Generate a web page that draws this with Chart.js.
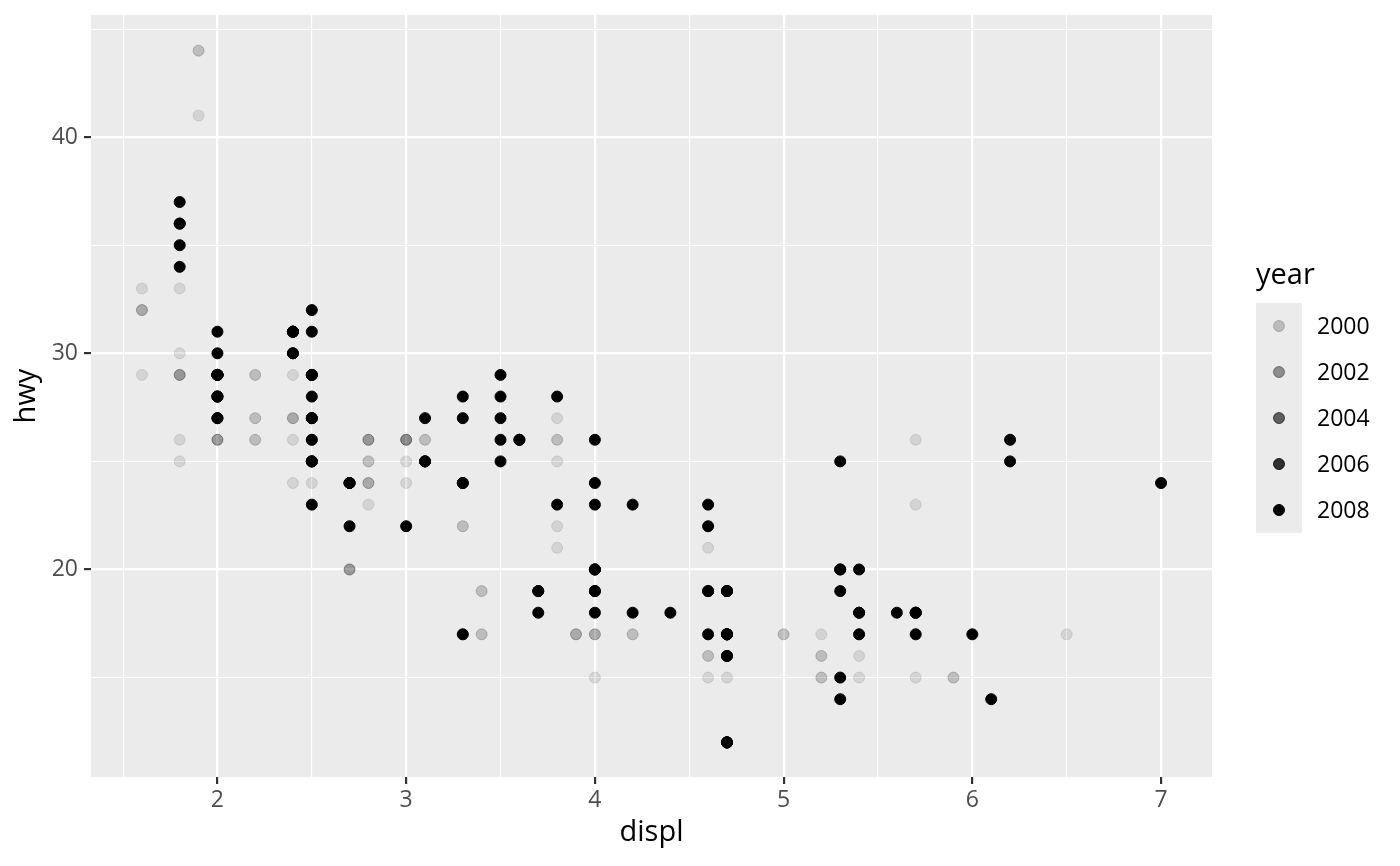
<!DOCTYPE html>
<html>
<head>
<meta charset="utf-8">
<script src="https://cdn.jsdelivr.net/npm/chart.js@4.4.1/dist/chart.umd.min.js"></script>
<style>
  html, body { margin: 0; padding: 0; background: #fff; }
  #wrap { width: 1400px; height: 866px; }
</style>
</head>
<body>
<div id="wrap"><canvas id="mpgChart" width="1400" height="866"></canvas></div>
<script>
// mpg: engine displacement vs highway mileage, alpha by model year
const displ = [
  1.8,1.8,2.0,2.0,2.8,2.8,3.1,
  1.8,1.8,2.0,2.0,2.8,2.8,3.1,3.1,2.8,3.1,4.2,
  5.3,5.3,5.3,5.7,6.0,5.7,5.7,6.2,6.2,7.0,
  5.3,5.3,5.7,6.5,2.4,2.4,3.1,3.5,3.6,
  2.4,3.0,3.3,3.3,3.3,3.3,3.3,3.8,3.8,3.8,4.0,
  3.7,3.7,3.9,3.9,4.7,4.7,4.7,5.2,5.2,
  3.9,4.7,4.7,4.7,5.2,5.7,5.9,
  4.7,4.7,4.7,4.7,4.7,4.7,5.2,5.2,5.7,5.9,
  4.6,5.4,5.4,
  4.0,4.0,4.0,4.0,4.6,5.0,
  4.2,4.2,4.6,4.6,4.6,5.4,5.4,
  3.8,3.8,4.0,4.0,4.6,4.6,4.6,4.6,5.4,
  1.6,1.6,1.6,1.6,1.6,1.8,1.8,1.8,2.0,
  2.4,2.4,2.4,2.4,2.5,2.5,3.3,
  2.0,2.0,2.0,2.0,2.7,2.7,2.7,
  3.0,3.7,4.0,4.7,4.7,4.7,5.7,6.1,
  4.0,4.2,4.4,4.6,
  5.4,5.4,5.4,
  4.0,4.0,4.6,5.0,
  2.4,2.4,2.5,2.5,3.5,3.5,
  3.0,3.0,3.5,
  3.3,3.3,4.0,5.6,
  3.1,3.8,3.8,3.8,5.3,
  2.5,2.5,2.5,2.5,2.5,2.5,
  2.2,2.2,2.5,2.5,2.5,2.5,2.5,2.5,
  2.7,2.7,3.4,3.4,4.0,4.7,
  2.2,2.2,2.4,2.4,3.0,3.0,3.5,
  2.2,2.2,2.4,2.4,3.0,3.0,3.3,
  1.8,1.8,1.8,1.8,1.8,
  4.7,5.7,
  2.7,2.7,2.7,3.4,3.4,4.0,4.0,
  2.0,2.0,2.0,2.0,2.8,
  1.9,2.0,2.0,2.0,2.0,2.5,2.5,2.8,2.8,
  1.9,1.9,2.0,2.0,2.5,2.5,
  1.8,1.8,2.0,2.0,2.8,2.8,3.6
];
const year = [
  1999,1999,2008,2008,1999,1999,2008,
  1999,1999,2008,2008,1999,1999,2008,2008,1999,2008,2008,
  2008,2008,2008,1999,2008,1999,1999,2008,2008,2008,
  2008,2008,1999,1999,1999,2008,1999,2008,2008,
  1999,1999,1999,1999,2008,2008,2008,1999,1999,2008,2008,
  2008,2008,1999,1999,2008,2008,2008,1999,1999,
  1999,2008,2008,2008,1999,2008,1999,
  2008,2008,2008,2008,2008,2008,1999,1999,2008,1999,
  1999,1999,2008,
  1999,1999,1999,2008,2008,1999,
  1999,1999,1999,1999,2008,1999,2008,
  1999,1999,2008,2008,1999,1999,2008,2008,2008,
  1999,1999,1999,1999,1999,2008,2008,2008,2008,
  1999,1999,2008,2008,1999,1999,2008,
  1999,1999,2008,2008,2008,2008,2008,
  2008,2008,1999,1999,2008,2008,2008,2008,
  1999,2008,2008,1999,
  1999,1999,2008,
  1999,2008,2008,1999,
  1999,1999,2008,2008,2008,2008,
  1999,1999,2008,
  1999,1999,2008,2008,
  1999,1999,1999,2008,2008,
  1999,1999,2008,2008,2008,2008,
  1999,1999,1999,1999,2008,2008,2008,2008,
  1999,1999,1999,1999,2008,2008,
  1999,1999,2008,2008,1999,1999,2008,
  1999,1999,2008,2008,1999,1999,2008,
  1999,1999,1999,2008,2008,
  1999,2008,
  1999,1999,2008,1999,1999,2008,2008,
  1999,1999,2008,2008,1999,
  1999,1999,1999,2008,2008,2008,2008,1999,1999,
  1999,1999,1999,1999,2008,2008,
  1999,1999,2008,2008,1999,1999,2008
];
const hwy = [
  29,29,31,30,26,26,27,
  26,25,28,27,25,25,25,25,24,25,23,
  20,15,20,17,17,26,23,26,25,24,
  19,14,15,17,27,30,26,29,26,
  24,24,22,22,24,24,17,22,21,23,23,
  19,18,17,17,19,19,12,17,15,
  17,17,12,17,16,18,15,
  16,12,17,17,16,12,15,16,17,15,
  17,17,18,
  17,19,17,19,19,17,
  17,17,16,16,17,15,17,
  26,25,26,24,21,22,23,22,20,
  33,32,32,29,32,34,36,36,29,
  26,27,30,31,26,26,28,
  26,29,28,27,24,24,24,
  22,19,20,17,12,19,18,14,
  15,18,18,15,
  17,16,18,
  17,19,19,17,
  29,27,31,32,27,26,
  26,25,25,
  17,17,20,18,
  26,26,27,28,25,
  25,24,27,25,26,23,
  26,26,26,26,25,27,25,27,
  20,20,19,17,20,17,
  29,27,31,31,26,26,28,
  27,29,31,31,26,26,27,
  30,33,35,37,35,
  15,18,
  20,20,22,17,19,18,20,
  29,26,29,29,24,
  44,29,26,29,29,29,29,23,24,
  44,41,29,26,28,29,
  29,29,28,29,26,26,26
];

const xMajor = [2, 3, 4, 5, 6, 7];
const xMinor = [1.5, 2.5, 3.5, 4.5, 5.5, 6.5];
const yMajor = [20, 30, 40];
const yMinor = [15, 25, 35, 45];
const legendYears = [2000, 2002, 2004, 2006, 2008];

const FONT = "'Open Sans', 'Noto Sans', 'DejaVu Sans', sans-serif";
const YEAR_MIN = 1999, YEAR_MAX = 2008;
const POINT_R = 5.5;

// ggplot scale_alpha: range 0.1 .. 1
function alphaFor(y) {
  return 0.1 + 0.9 * (y - YEAR_MIN) / (YEAR_MAX - YEAR_MIN);
}
function pointColor(y) {
  return `rgba(0,0,0,${alphaFor(y).toFixed(3)})`;
}

const points = displ.map((d, i) => ({ x: d, y: hwy[i] }));

const panelBg = {
  id: 'panelBg',
  beforeDraw(chart) {
    const { ctx, chartArea: a } = chart;
    ctx.save();
    ctx.fillStyle = '#ffffff';
    ctx.fillRect(0, 0, chart.width, chart.height);
    ctx.fillStyle = '#EBEBEB';
    ctx.fillRect(a.left, a.top, a.right - a.left, a.bottom - a.top);
    ctx.restore();
  }
};

const alphaLegend = {
  id: 'alphaLegend',
  afterDraw(chart) {
    const ctx = chart.ctx;
    const left = 1256, top = 303, key = 46;
    ctx.save();
    ctx.fillStyle = '#000';
    ctx.font = `29px ${FONT}`;
    ctx.textBaseline = 'alphabetic';
    ctx.textAlign = 'left';
    ctx.fillText('year', left, 284);

    ctx.fillStyle = '#EBEBEB';
    ctx.fillRect(left, top, key, key * legendYears.length);

    ctx.font = `23px ${FONT}`;
    ctx.textBaseline = 'middle';
    legendYears.forEach((yr, i) => {
      const cy = top + key * i + key / 2;
      const cx = left + key / 2;
      ctx.beginPath();
      ctx.arc(cx, cy, POINT_R, 0, Math.PI * 2);
      ctx.fillStyle = pointColor(yr);
      ctx.fill();
      ctx.lineWidth = 1;
      ctx.strokeStyle = pointColor(yr);
      ctx.stroke();
      ctx.fillStyle = '#000';
      ctx.fillText(String(yr), left + key + 15, cy + 1);
    });
    ctx.restore();
  }
};

const gridWidth = (major) => (c) => (c.tick && major.includes(c.tick.value) ? 2.2 : 1.1);
const tickColor = (major) => (c) => (c.tick && major.includes(c.tick.value) ? '#333333' : 'rgba(0,0,0,0)');

new Chart(document.getElementById('mpgChart'), {
  type: 'scatter',
  data: {
    datasets: [{
      label: 'hwy',
      data: points,
      pointRadius: POINT_R,
      pointBorderWidth: 1,
      pointBackgroundColor: (c) => pointColor(year[c.dataIndex]),
      pointBorderColor: (c) => pointColor(year[c.dataIndex])
    }]
  },
  plugins: [panelBg, alphaLegend],
  options: {
    responsive: false,
    animation: false,
    events: [],
    layout: { padding: { left: 0, top: 15, right: 188, bottom: 0 } },
    plugins: { legend: { display: false }, tooltip: { enabled: false } },
    scales: {
      x: {
        type: 'linear',
        min: 1.33,
        max: 7.27,
        afterFit: (s) => { s.height = 89; s.paddingLeft = 0; s.paddingRight = 0; },
        afterBuildTicks: (s) => {
          s.ticks = [...xMajor, ...xMinor].sort((a, b) => a - b).map(v => ({ value: v }));
        },
        border: { display: false },
        grid: {
          color: '#ffffff',
          lineWidth: gridWidth(xMajor),
          drawTicks: true,
          tickLength: 7,
          tickWidth: 2.2,
          tickColor: tickColor(xMajor)
        },
        ticks: {
          autoSkip: false,
          maxRotation: 0,
          padding: 3,
          color: '#4D4D4D',
          font: { family: FONT, size: 23 },
          callback: (v) => (xMajor.includes(v) ? String(v) : '')
        },
        title: {
          display: true,
          text: 'displ',
          color: '#000',
          font: { family: FONT, size: 29 },
          padding: { top: 0, bottom: 16 }
        }
      },
      y: {
        type: 'linear',
        min: 10.4,
        max: 45.65,
        afterFit: (s) => { s.width = 91; s.paddingTop = 0; s.paddingBottom = 0; },
        afterBuildTicks: (s) => {
          s.ticks = [...yMajor, ...yMinor].sort((a, b) => a - b).map(v => ({ value: v }));
        },
        border: { display: false },
        grid: {
          color: '#ffffff',
          lineWidth: gridWidth(yMajor),
          drawTicks: true,
          tickLength: 7,
          tickWidth: 2.2,
          tickColor: tickColor(yMajor)
        },
        ticks: {
          autoSkip: false,
          padding: 6,
          color: '#4D4D4D',
          font: { family: FONT, size: 23 },
          callback: (v) => (yMajor.includes(v) ? String(v) : '')
        },
        title: {
          display: true,
          text: 'hwy',
          color: '#000',
          font: { family: FONT, size: 29 },
          padding: { top: 9, bottom: 0 }
        }
      }
    }
  }
});
</script>
</body>
</html>
